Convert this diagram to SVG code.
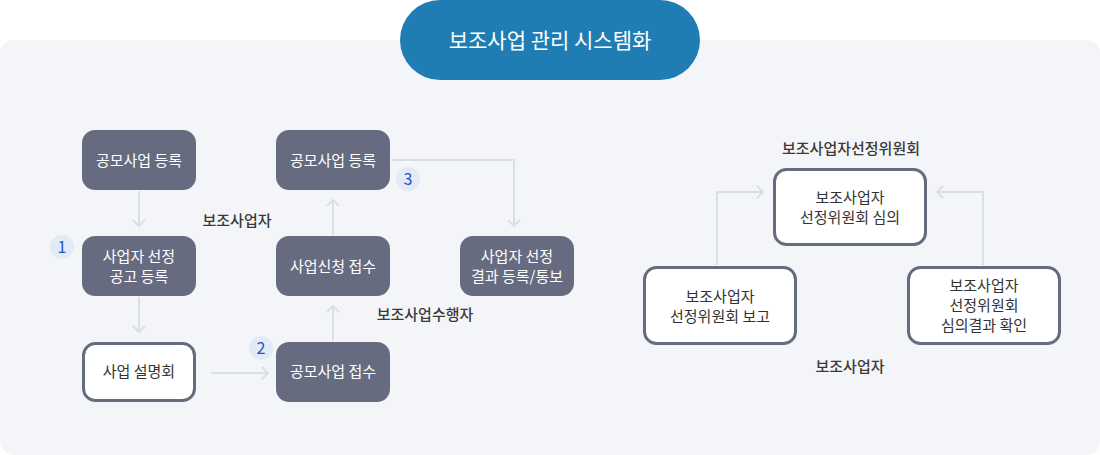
<svg xmlns="http://www.w3.org/2000/svg" width="1100" height="455" viewBox="0 0 1100 455">
<defs>
<style>
text{font-family:"Noto Sans CJK KR","Noto Sans",sans-serif;text-anchor:middle}
.dark rect{fill:#676b80}
.dark text{fill:#ffffff;font-size:15px}
.light rect{fill:#ffffff;stroke:#676b80;stroke-width:3}
.light text{fill:#333333;font-size:15px}
.lbl{fill:#3a3a3a;font-size:15px;font-weight:500}
.badge circle{fill:#e3eaf7}
.badge text{fill:#2255bb;font-size:16px}
.conn{fill:none;stroke:#dcdee5;stroke-width:2;marker-end:url(#chev)}
</style>
<marker id="chev" viewBox="-8 -8 10 16" markerWidth="10" markerHeight="16" refX="0" refY="0" orient="auto" markerUnits="userSpaceOnUse">
<path d="M-6,-6 L0,0 L-6,6" fill="none" stroke="#dcdee5" stroke-width="2"/>
</marker>
</defs>
<rect x="0" y="40" width="1100" height="415" rx="14" fill="#f4f5f9"/>
<g id="title">
<rect x="400" y="0" width="300" height="80" rx="40" fill="#1f7db3"/>
<text x="550" y="48" fill="#ffffff" style="font-size:21px">보조사업 관리 시스템화</text>
</g>
<g id="connectors">
<path class="conn" d="M139,191 V226"/>
<path class="conn" d="M139,297 V332"/>
<path class="conn" d="M211,373 H268"/>
<path class="conn" d="M333,341 V306"/>
<path class="conn" d="M333,235 V200"/>
<path class="conn" d="M391,160 H514 V226"/>
<path class="conn" d="M717,265 V192 H763"/>
<path class="conn" d="M983,265 V192 H937"/>
</g>
<g id="n1" class="dark"><rect x="82" y="130" width="114" height="60" rx="13"/><text x="139" y="166">공모사업 등록</text></g>
<g id="n2" class="dark"><rect x="82" y="236" width="114" height="60" rx="13"/><text x="139" y="262">사업자 선정</text><text x="139" y="282">공고 등록</text></g>
<g id="n3" class="light"><rect x="83.5" y="343.5" width="111" height="57" rx="12"/><text x="139" y="377">사업 설명회</text></g>
<g id="n4" class="dark"><rect x="276" y="130" width="114" height="60" rx="13"/><text x="333" y="166">공모사업 등록</text></g>
<g id="n5" class="dark"><rect x="276" y="236" width="114" height="60" rx="13"/><text x="333" y="272">사업신청 접수</text></g>
<g id="n6" class="dark"><rect x="276" y="342" width="114" height="60" rx="13"/><text x="333" y="377">공모사업 접수</text></g>
<g id="n7" class="dark"><rect x="460" y="236" width="114" height="60" rx="13"/><text x="517" y="262">사업자 선정</text><text x="517" y="282">결과 등록/통보</text></g>
<g id="n8" class="light"><rect x="774.5" y="169.5" width="151" height="75" rx="12"/><text x="850" y="203">보조사업자</text><text x="850" y="223">선정위원회 심의</text></g>
<g id="n9" class="light"><rect x="644.5" y="267.5" width="151" height="76" rx="12"/><text x="720" y="302">보조사업자</text><text x="720" y="322">선정위원회 보고</text></g>
<g id="n10" class="light"><rect x="908.5" y="267.5" width="151" height="76" rx="12"/><text x="984" y="291">보조사업자</text><text x="984" y="311">선정위원회</text><text x="984" y="331">심의결과 확인</text></g>
<g id="b1" class="badge"><circle cx="62" cy="247" r="12"/><text x="62" y="253">1</text></g>
<g id="b2" class="badge"><circle cx="261" cy="348" r="12"/><text x="261" y="354">2</text></g>
<g id="b3" class="badge"><circle cx="408" cy="179" r="12"/><text x="408" y="185">3</text></g>
<g id="labels">
<text class="lbl" x="237" y="226">보조사업자</text>
<text class="lbl" x="425" y="320">보조사업수행자</text>
<text class="lbl" x="851" y="154">보조사업자선정위원회</text>
<text class="lbl" x="850" y="372">보조사업자</text>
</g>
</svg>
